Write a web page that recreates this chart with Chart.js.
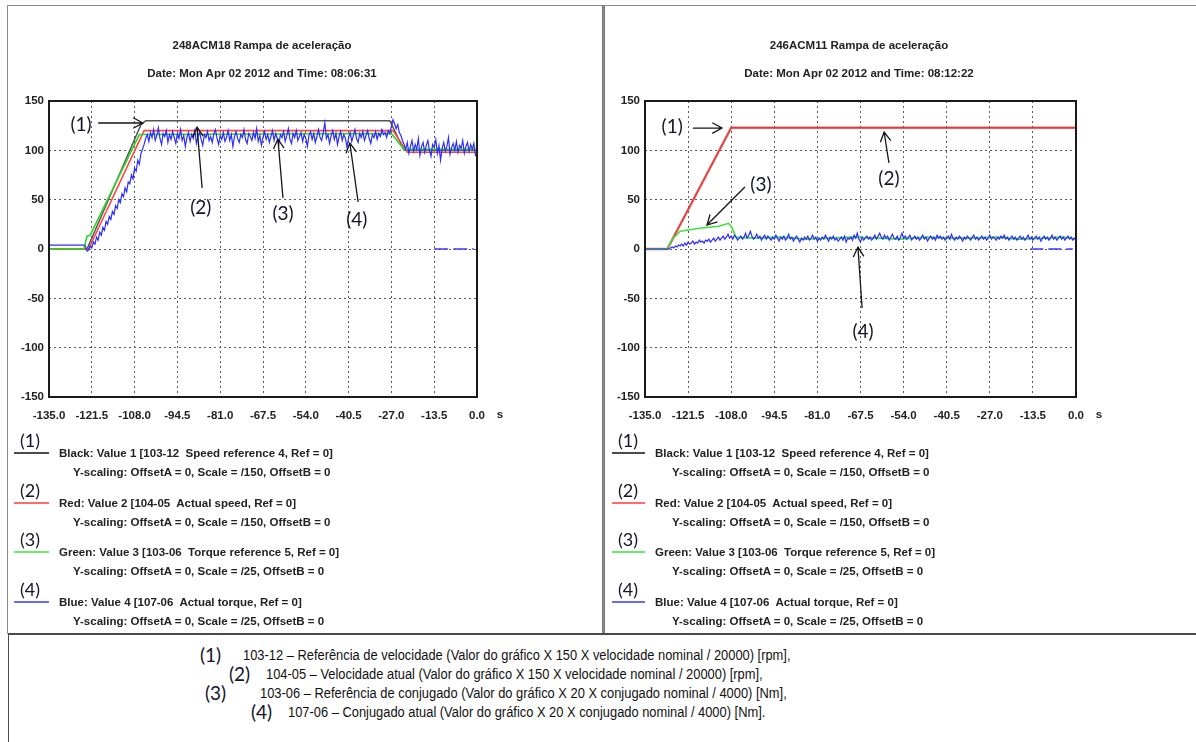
<!DOCTYPE html>
<html>
<head>
<meta charset="utf-8">
<script src="https://cdn.jsdelivr.net/npm/chart.js@4.4.1/dist/chart.umd.min.js"></script>
<style>
  body { margin: 0; background: #fff; width: 1196px; height: 742px; overflow: hidden; position: relative; font-family: "Liberation Sans", Arial, sans-serif; }
  .box { position: absolute; box-sizing: border-box; }
  #leftBox { left: 7px; top: 5px; width: 597px; height: 629px; border: 1px solid #8c8c8c; }
  #rightBox { left: 602px; top: 5px; width: 620px; height: 629px; border: 1px solid #8c8c8c; border-left: 3px double #7a7a7a; }
  #bottomBox { left: 8px; top: 633px; width: 1220px; height: 130px; border-top: 2px solid #4a4a4a; border-left: 1px solid #4a4a4a; }
  .plot { position: absolute; top: 0; }
  .title { position: absolute; width: 400px; text-align: center; font: bold 11.5px "Liberation Sans", Arial, sans-serif; color: #222; line-height: 14px; }
  .num { position: absolute; font-family: Lato, "Open Sans", sans-serif; color: #14142a; white-space: nowrap; }
  .leg { position: absolute; font: bold 11.5px "Liberation Sans", Arial, sans-serif; color: #222; white-space: pre; line-height: 14px; }
  .swatch { position: absolute; height: 0; border-top: 2px solid; }
  .note { position: absolute; font: 14px "Liberation Sans", Arial, sans-serif; color: #111; white-space: pre; line-height: 16px; transform: scaleX(0.92); transform-origin: 0 50%; }
</style>
</head>
<body>
<div class="box" id="leftBox"></div>
<div class="box" id="rightBox"></div>
<div class="box" id="bottomBox"></div>
<canvas id="leftChart" class="plot" width="600" height="440" style="left:0"></canvas>
<canvas id="rightChart" class="plot" width="596" height="440" style="left:600px"></canvas>
<script>
// ---------- common axes ----------
const timeTicks = [-135, -121.5, -108, -94.5, -81, -67.5, -54, -40.5, -27, -13.5, 0];
const levelTicks = [-150, -100, -50, 0, 50, 100, 150];

// logged channels are sampled every 0.5 s from -135 s
const sampleStart = -135;
const sampleStep = 0.5;

// ---------- 248ACM18 ----------
const titleA = '248ACM18 Rampa de aceleração';
const dateA = 'Date: Mon Apr 02 2012 and Time: 08:06:31';

const blackTA = [-135, -123, -106, -104.5, -27.5, -23, 0];
const blackVA = [0, 0, 126, 130, 130, 100, 100];
const redTA = [-135, -122.5, -105, -26.5, -22, 0];
const redVA = [0, 0, 120, 120, 98, 98];
const greenTA = [-135, -124, -123, -122, -106.5, -27, -23, 0];
const greenVA = [0, 0, 13, 14, 116, 117, 101, 101];
const blueA = [
  4, 4, 4, 4, 4, 4, 4, 4, 4, 4, 4, 4, 4, 4, 4, 4, 4, 4, 4, 4,
  4, 4, 4, 3, -2, -1, 3, 1, 7, 5, 12, 9, 17, 14, 22, 19, 28, 25, 33, 30,
  38, 35, 44, 41, 50, 47, 56, 53, 62, 58, 68, 66, 75, 71, 82, 79, 90, 86, 97, 101,
  106, 112, 116, 109, 118, 113, 121, 110, 115, 123, 112, 106, 117, 114, 120, 108, 116, 111, 119, 113,
  107, 117, 112, 121, 110, 115, 104, 113, 118, 109, 116, 112, 120, 107, 114, 118, 111, 105, 116, 113,
  119, 110, 114, 108, 117, 121, 112, 106, 115, 111, 118, 109, 113, 120, 110, 116, 104, 114, 119, 112,
  108, 116, 113, 121, 111, 107, 117, 114, 110, 118, 112, 122, 109, 115, 105, 113, 119, 111, 116, 108,
  114, 120, 110, 117, 112, 106, 116, 113, 119, 109, 115, 122, 111, 107, 117, 113, 120, 110, 114, 118,
  109, 116, 112, 104, 115, 119, 111, 117, 108, 114, 121, 113, 110, 118, 128, 112, 116, 107, 115, 120,
  111, 117, 106, 114, 119, 110, 116, 112, 103, 113, 118, 109, 115, 121, 112, 108, 117, 113, 119, 110,
  115, 120, 112, 107, 116, 113, 119, 111, 117, 114, 121, 116, 118, 113, 120, 117, 124, 131, 127, 122,
  126, 118, 115, 110, 106, 101, 108, 97, 104, 110, 99, 106, 101, 112, 95, 104, 108, 98, 105, 110,
  100, 94, 106, 103, 111, 97, 105, 90, 102, 108, 99, 104, 113, 96, 103, 107, 100, 109, 98, 105,
  102, 110, 97, 104, 108, 99, 106, 101, 107, 95, 93
];
const refTA = [-13.5, -1];
const refVA = [0, 0];

// ---------- 246ACM11 ----------
const titleB = '246ACM11 Rampa de aceleração';
const dateB = 'Date: Mon Apr 02 2012 and Time: 08:12:22';

const blackTB = [-135, -128, -108, 0];
const blackVB = [0, 0, 123, 123];
const redTB = [-135, -128, -108, 0];
const redVB = [0, 0, 123, 123];
const greenTB = [-135, -128, -126.5, -124, -118, -112, -108.8, -107.8, -106.5, -100, -92, -85, -78, -70, -62, -55, -47, -40, -32, -25, -18, -10, -4, 0];
const greenVB = [0, 0, 10, 18, 21, 23, 26, 22, 12, 11, 12, 10, 11, 12, 11, 10, 12, 11, 11, 12, 10, 11, 12, 10];
const blueB = [
  0, 0, 0, 0, 0, 0, 0, 0, 0, 0, 0, 0, 0, 0, 0, 0, 1, 2, 1, 3,
  2, 4, 3, 5, 3, 6, 4, 7, 5, 6, 8, 5, 7, 6, 9, 7, 8, 6, 9, 8,
  10, 7, 9, 11, 8, 10, 12, 9, 11, 13, 10, 12, 15, 11, 13, 10, 14, 12, 9, 11,
  13, 10, 12, 16, 11, 14, 18, 13, 10, 12, 15, 11, 13, 9, 12, 14, 10, 13, 11, 9,
  12, 10, 14, 11, 8, 12, 10, 13, 9, 11, 15, 10, 12, 8, 11, 13, 10, 7, 11, 9,
  12, 10, 13, 9, 11, 14, 10, 12, 8, 11, 9, 12, 10, 14, 11, 8, 12, 10, 13, 9,
  11, 8, 10, 12, 9, 13, 7, 11, 10, 12, 9, 14, 11, 16, 10, 7, 12, 9, 11, 13,
  10, 12, 9, 11, 14, 10, 13, 16, 12, 10, 14, 11, 13, 9, 12, 15, 11, 10, 13, 9,
  12, 16, 11, 13, 10, 12, 14, 9, 11, 13, 10, 12, 9, 11, 14, 10, 12, 8, 11, 13,
  10, 12, 9, 14, 11, 13, 10, 12, 9, 11, 13, 10, 15, 11, 9, 12, 10, 13, 11, 8,
  12, 10, 13, 11, 9, 12, 14, 10, 12, 9, 11, 13, 10, 12, 9, 11, 14, 10, 12, 11,
  9, 12, 10, 13, 11, 14, 10, 12, 9, 11, 13, 10, 12, 9, 11, 13, 10, 12, 9, 11,
  14, 10, 12, 9, 11, 13, 10, 12, 8, 11, 13, 10, 12, 9, 11, 14, 10, 12, 9, 11,
  13, 10, 12, 9, 11, 13, 10, 12, 9, 11, 10
];
const refTB = [-14.3, -1];
const refVB = [0, 0];

// legend / footer text
const legendNums = ['(1)', '(2)', '(3)', '(4)'];
const legendColors = ['#4a4a4a', '#ff6a6a', '#66ee66', '#6a6aff'];
const legendNames = [
  'Black: Value 1 [103-12  Speed reference 4, Ref = 0]',
  'Red: Value 2 [104-05  Actual speed, Ref = 0]',
  'Green: Value 3 [103-06  Torque reference 5, Ref = 0]',
  'Blue: Value 4 [107-06  Actual torque, Ref = 0]'
];
const legendScales = [
  'Y-scaling: OffsetA = 0, Scale = /150, OffsetB = 0',
  'Y-scaling: OffsetA = 0, Scale = /150, OffsetB = 0',
  'Y-scaling: OffsetA = 0, Scale = /25, OffsetB = 0',
  'Y-scaling: OffsetA = 0, Scale = /25, OffsetB = 0'
];
const footerLines = [
  '103-12 – Referência de velocidade (Valor do gráfico X 150 X velocidade nominal / 20000) [rpm],',
  '104-05 – Velocidade atual (Valor do gráfico X 150 X velocidade nominal / 20000) [rpm],',
  '103-06 – Referência de conjugado (Valor do gráfico X 20 X conjugado nominal / 4000) [Nm],',
  '107-06 – Conjugado atual (Valor do gráfico X 20 X conjugado nominal / 4000) [Nm].'
];

// callouts, in axis units: label position, arrow tail, arrow tip
const notesA = [
  { t: '(1)', at: [-124.9, 125.7], from: [-119.5, 127.7], to: [-105.4, 127.7] },
  { t: '(2)', at: [-87.1, 41.6], from: [-86.7, 61.8], to: [-88.3, 123.6] },
  { t: '(3)', at: [-61.2, 35.5], from: [-61.2, 51.7], to: [-62.8, 111.5] },
  { t: '(4)', at: [-37.9, 29.4], from: [-37.5, 47.6], to: [-40.1, 107.4] }
];
const notesB = [
  { t: '(1)', at: [-126.5, 123.6], from: [-120, 122.6], to: [-110.9, 122.6] },
  { t: '(2)', at: [-58.6, 70.9], from: [-58.6, 87.2], to: [-60.1, 118.6] },
  { t: '(3)', at: [-98.7, 64.9], from: [-103.7, 62.8], to: [-115.6, 24.3] },
  { t: '(4)', at: [-66.7, -84.1], from: [-67, -59.8], to: [-68.3, 2.0] }
];

function pairs(ts, vs) {
  return ts.map((t, i) => ({ x: t, y: vs[i] }));
}
function sampled(vals) {
  return vals.map((v, i) => ({ x: sampleStart + i * sampleStep, y: v }));
}

function arrow(ctx, x1, y1, x2, y2) {
  const ang = Math.atan2(y2 - y1, x2 - x1), h = 11, w = 0.5;
  ctx.beginPath();
  ctx.moveTo(x1, y1);
  ctx.lineTo(x2, y2);
  ctx.moveTo(x2 - h * Math.cos(ang - w), y2 - h * Math.sin(ang - w));
  ctx.lineTo(x2, y2);
  ctx.lineTo(x2 - h * Math.cos(ang + w), y2 - h * Math.sin(ang + w));
  ctx.stroke();
}

// plot frame, unit label and numbered callouts
const decor = {
  id: 'decor',
  afterDatasetsDraw(chart, args, opts) {
    const { ctx, chartArea: a, scales: { x, y } } = chart;
    ctx.save();
    ctx.strokeStyle = '#1a1a1a';
    ctx.lineWidth = 2;
    ctx.strokeRect(a.left, a.top, a.right - a.left, a.bottom - a.top);

    ctx.fillStyle = '#222';
    ctx.font = 'bold 11.5px "Liberation Sans", Arial, sans-serif';
    ctx.textAlign = 'center';
    ctx.textBaseline = 'middle';
    ctx.fillText('s', a.right + 23, a.bottom + 18);

    ctx.strokeStyle = '#151515';
    ctx.lineWidth = 1.3;
    ctx.fillStyle = '#14142a';
    ctx.font = '19px Lato, "Open Sans", sans-serif';
    for (const n of opts.notes) {
      ctx.fillText(n.t, x.getPixelForValue(n.at[0]), y.getPixelForValue(n.at[1]));
      arrow(ctx, x.getPixelForValue(n.from[0]), y.getPixelForValue(n.from[1]),
        x.getPixelForValue(n.to[0]), y.getPixelForValue(n.to[1]));
    }
    ctx.restore();
  }
};

const tickFont = { family: '"Liberation Sans", Arial, sans-serif', size: 11.5, weight: 'bold' };

function makeChart(id, sets, notes, axisWidth, padRight) {
  return new Chart(document.getElementById(id), {
    type: 'line',
    data: { datasets: sets },
    options: {
      responsive: false,
      animation: false,
      layout: { padding: { left: 0, top: 101, right: padRight, bottom: 10 } },
      elements: { point: { radius: 0 }, line: { tension: 0 } },
      plugins: { legend: { display: false }, tooltip: { enabled: false }, decor: { notes: notes } },
      scales: {
        x: {
          type: 'linear', min: -135, max: 0,
          afterBuildTicks: s => { s.ticks = timeTicks.map(v => ({ value: v })); },
          afterFit: s => { s.height = 33; },
          ticks: { autoSkip: false, maxRotation: 0, padding: 12, color: '#222', font: tickFont,
            callback: v => Number(v).toFixed(1) },
          grid: { color: '#5a5a5a', lineWidth: 1, drawTicks: false, borderDash: [2, 3] },
          border: { display: false, dash: [2, 3] }
        },
        y: {
          type: 'linear', min: -150, max: 150,
          afterBuildTicks: s => { s.ticks = levelTicks.map(v => ({ value: v })); },
          afterFit: s => { s.width = axisWidth; },
          ticks: { padding: 5, color: '#222', font: tickFont },
          grid: { color: '#5a5a5a', lineWidth: 1, drawTicks: false, borderDash: [2, 3] },
          border: { display: false, dash: [2, 3] }
        }
      }
    },
    plugins: [decor]
  });
}

makeChart('leftChart', [
  { data: sampled(blueA), borderColor: 'rgb(45,45,255)', borderWidth: 1.2 },
  { data: pairs(refTA, refVA), borderColor: 'rgb(60,60,255)', borderWidth: 1.3, borderDash: [14, 5] },
  { data: pairs(greenTA, greenVA), borderColor: 'rgb(40,215,40)', borderWidth: 1.6 },
  { data: pairs(redTA, redVA), borderColor: 'rgb(255,70,70)', borderWidth: 1.6 },
  { data: pairs(blackTA, blackVA), borderColor: '#555', borderWidth: 1.5 }
], notesA, 49, 123);

makeChart('rightChart', [
  { data: sampled(blueB), borderColor: 'rgb(45,45,255)', borderWidth: 1.2 },
  { data: pairs(refTB, refVB), borderColor: 'rgb(60,60,255)', borderWidth: 1.3, borderDash: [13, 5] },
  { data: pairs(greenTB, greenVB), borderColor: 'rgb(60,225,60)', borderWidth: 1.6 },
  { data: pairs(redTB, redVB), borderColor: 'rgba(238,60,60,0.8)', borderWidth: 2.5 },
  { data: pairs(blackTB, blackVB), borderColor: '#444', borderWidth: 1 }
], notesB, 45, 120);

// titles, legends and footer
function addDiv(cls, text, css) {
  const d = document.createElement('div');
  d.className = cls;
  d.textContent = text;
  Object.assign(d.style, css);
  document.body.appendChild(d);
  return d;
}

[[titleA, dateA, 62], [titleB, dateB, 659]].forEach(([t, d, left]) => {
  addDiv('title', t, { left: left + 'px', top: '38px' });
  addDiv('title', d, { left: left + 'px', top: '66px' });
});

[[14, 49, 59, 73], [612, 645, 655, 672]].forEach(([x0, x1, tx, sx]) => {
  legendNums.forEach((n, k) => {
    const base = 453 + k * 49.7;
    addDiv('num', n, { left: (x0 + 6) + 'px', top: (base - 24) + 'px', fontSize: '18px' });
    addDiv('swatch', '', { left: x0 + 'px', top: (base - 1) + 'px', width: (x1 - x0) + 'px', borderColor: legendColors[k] });
    addDiv('leg', legendNames[k], { left: tx + 'px', top: (base - 7) + 'px' });
    addDiv('leg', legendScales[k], { left: sx + 'px', top: (base + 12) + 'px' });
  });
});

const footerNumX = [200, 229, 205, 251];
const footerTextX = [243, 266, 260, 288];
const footerY = [655, 674, 693, 712];
footerLines.forEach((line, k) => {
  addDiv('num', legendNums[k], { left: footerNumX[k] + 'px', top: (footerY[k] - 12) + 'px', fontSize: '19px' });
  addDiv('note', line, { left: footerTextX[k] + 'px', top: (footerY[k] - 8) + 'px' });
});
</script>
</body>
</html>
